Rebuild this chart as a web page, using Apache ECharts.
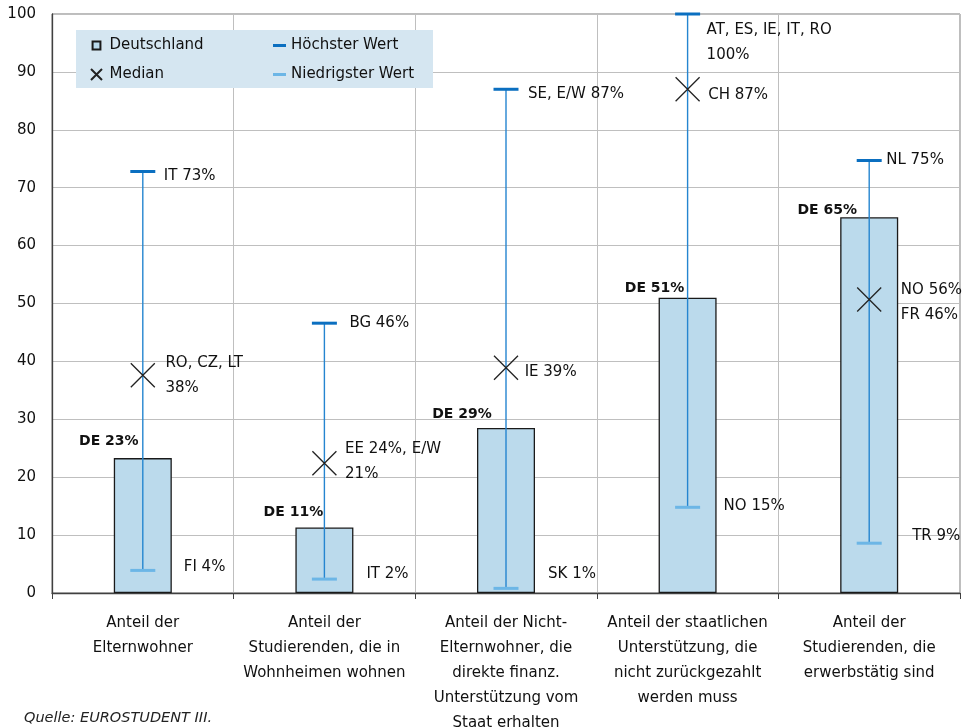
<!DOCTYPE html>
<html>
<head>
<meta charset="utf-8">
<script src="https://cdn.jsdelivr.net/npm/echarts@6/dist/echarts.min.js"></script>
<style>
html,body{margin:0;padding:0;background:#fff;}
#chart{width:965px;height:728px;}
</style>
</head>
<body>
<div id="chart"></div>
<script>
// ---- data ----
const categories = [
  'Anteil der\nElternwohner',
  'Anteil der\nStudierenden, die in\nWohnheimen wohnen',
  'Anteil der Nicht-\nElternwohner, die\ndirekte finanz.\nUnterstützung vom\nStaat erhalten',
  'Anteil der staatlichen\nUnterstützung, die\nnicht zurückgezahlt\nwerden muss',
  'Anteil der\nStudierenden, die\nerwerbstätig sind'
];
const deValues = [23.3, 11.3, 28.5, 51.0, 64.9];
const deLabels = ['DE 23%', 'DE 11%', 'DE 29%', 'DE 51%', 'DE 65%'];
const maxValues = [72.8, 46.6, 87.0, 100, 74.7];
const maxLabels = ['IT 73%', 'BG 46%', 'SE, E/W 87%', 'AT, ES, IE, IT, RO\n100%', 'NL 75%'];
const minValues = [3.9, 2.4, 0.8, 14.8, 8.6];
const minLabels = ['FI 4%', 'IT 2%', 'SK 1%', 'NO 15%', 'TR 9%'];
const medianValues = [37.6, 22.4, 38.9, 87.0, 50.7];
const medianLabels = ['RO, CZ, LT\n38%', 'EE 24%, E/W\n21%', 'IE 39%', 'CH 87%', 'NO 56%\nFR 46%'];
const yTickLabels = ['0','10','20','30','40','50','60','70','80','90','100'];

// ---- label layout (style only, pixel offsets) ----
const deDx = [-34, -31, -44, -33, -42];
const deDy = [-19, -17, -16, -11, -9];
const maxDx = [21, 25, 22, 19, 17];
const maxDy = [5, 0, 5, 29, 0];
const minDx = [41, 42, 42, 36, 43];
const minDy = [-3, -5, -14, -1, -7];
const medDx = [22, 20, 18, 20, 31];
const medDy = [0, -2, 4, 6, 3];

const FONT = '"DejaVu Sans", sans-serif';
const TXT = '#111';
const LH = 25;

function textEl(str, x, y, opts) {
  return {
    type: 'text',
    style: Object.assign({
      text: str, x: x, y: y,
      fill: TXT, fontSize: 15, fontFamily: FONT,
      align: 'left', verticalAlign: 'middle', lineHeight: LH
    }, opts || {}),
    z2: 10
  };
}

const chart = echarts.init(document.getElementById('chart'), null, {renderer: 'canvas'});

const option = {
  animation: false,
  textStyle: {fontFamily: FONT},
  title: {
    text: 'Quelle: EUROSTUDENT III.',
    left: 24, top: 711, padding: 0,
    textStyle: {fontFamily: FONT, fontStyle: 'italic', fontWeight: 'normal', fontSize: 14.5, color: '#222'}
  },
  graphic: [{
    type: 'rect', left: 76, top: 30, z: 1,
    shape: {width: 357, height: 58},
    style: {fill: '#d5e6f1'}
  }],
  legend: [{
    left: 90, top: 38, orient: 'vertical', padding: 0, itemGap: 14,
    itemWidth: 16, itemHeight: 11,
    textStyle: {fontFamily: FONT, fontSize: 15, color: TXT},
    data: [
      {name: 'Deutschland', icon: 'path://M-2,-2M12,12M0,0h10v10h-10z'},
      {name: 'Median', icon: 'path://M0,0L10,10M10,0L0,10'}
    ]
  }, {
    left: 273, top: 38, orient: 'vertical', padding: 0, itemGap: 14,
    itemWidth: 13, itemHeight: 3,
    textStyle: {fontFamily: FONT, fontSize: 15, color: TXT},
    data: [
      {name: 'Höchster Wert', icon: 'rect'},
      {name: 'Niedrigster Wert', icon: 'rect'}
    ]
  }],
  grid: {
    left: 52, right: 5, top: 14, bottom: 135,
    outerBoundsMode: 'none',
    containLabel: false,
    show: true, borderColor: '#7a7a7a', borderWidth: 1, backgroundColor: 'transparent'
  },
  xAxis: {
    type: 'category',
    data: categories,
    boundaryGap: true,
    axisLine: {lineStyle: {color: '#404040', width: 1.3}},
    axisTick: {show: true, length: 6, interval: 0, lineStyle: {color: '#404040'}},
    splitLine: {show: true, interval: 0, lineStyle: {color: '#bfbfbf', width: 1}},
    axisLabel: {
      interval: 0, margin: 18, fontSize: 15, lineHeight: LH, color: TXT,
      fontFamily: FONT, align: 'center', hideOverlap: false
    }
  },
  yAxis: {
    type: 'value', min: 0, max: 100, interval: 10,
    axisLine: {show: true, lineStyle: {color: '#404040', width: 1.3}},
    axisTick: {show: false},
    splitLine: {show: true, lineStyle: {color: '#bfbfbf', width: 1}},
    axisLabel: {
      margin: 16, fontSize: 15, color: TXT, fontFamily: FONT,
      formatter: function (v) { return yTickLabels[Math.round(v / 10)]; }
    }
  },
  series: [{
    name: 'Deutschland',
    type: 'bar',
    barWidth: 58,
    z: 2,
    itemStyle: {color: '#bbdaec', borderColor: '#1a1a1a', borderWidth: 1.3},
    emphasis: {disabled: true},
    label: {
      show: true, position: 'top', distance: 0,
      fontFamily: FONT, fontSize: 14, fontWeight: 'bold', color: TXT,
      formatter: function (p) { return deLabels[p.dataIndex]; }
    },
    data: deValues.map(function (v, i) {
      return {value: v, label: {offset: [deDx[i], deDy[i] + 9]}};
    })
  }, {
    name: 'Höchster Wert',
    type: 'custom',
    z: 5,
    clip: false,
    itemStyle: {color: '#0b6fc0'},
    renderItem: function (params, api) {
      const i = params.dataIndex;
      const lo = api.coord([api.value(0), api.value(1)]);
      const hi = api.coord([api.value(0), api.value(2)]);
      return {
        type: 'group',
        children: [{
          type: 'line',
          shape: {x1: hi[0], y1: lo[1], x2: hi[0], y2: hi[1]},
          style: {stroke: '#2585d0', lineWidth: 1.4}
        }, {
          type: 'rect',
          shape: {x: hi[0] - 12.5, y: hi[1] - 1.5, width: 25, height: 3},
          style: {fill: '#0b6fc0'}
        },
        textEl(maxLabels[i], hi[0] + maxDx[i], hi[1] + maxDy[i])]
      };
    },
    data: maxValues.map(function (v, i) { return [i, minValues[i], v]; })
  }, {
    name: 'Niedrigster Wert',
    type: 'custom',
    z: 5,
    clip: false,
    itemStyle: {color: '#6cb6e6'},
    renderItem: function (params, api) {
      const i = params.dataIndex;
      const lo = api.coord([api.value(0), api.value(1)]);
      return {
        type: 'group',
        children: [{
          type: 'rect',
          shape: {x: lo[0] - 12.5, y: lo[1] - 1.5, width: 25, height: 3},
          style: {fill: '#6cb6e6'}
        },
        textEl(minLabels[i], lo[0] + minDx[i], lo[1] + minDy[i])]
      };
    },
    data: minValues.map(function (v, i) { return [i, v]; })
  }, {
    name: 'Median',
    type: 'scatter',
    z: 6,
    symbol: 'path://M0,0L24,24M24,0L0,24',
    symbolSize: 24,
    itemStyle: {color: 'rgba(0,0,0,0)', borderColor: '#222', borderWidth: 1.3, opacity: 1},
    emphasis: {disabled: true},
    label: {
      show: true, position: 'right', distance: 0,
      fontFamily: FONT, fontSize: 15, color: TXT, lineHeight: LH, align: 'left',
      formatter: function (p) { return medianLabels[p.dataIndex]; }
    },
    data: medianValues.map(function (v, i) {
      return {value: v, label: {offset: [medDx[i] - 12, medDy[i]]}};
    })
  }]
};

chart.setOption(option);
</script>
</body>
</html>
